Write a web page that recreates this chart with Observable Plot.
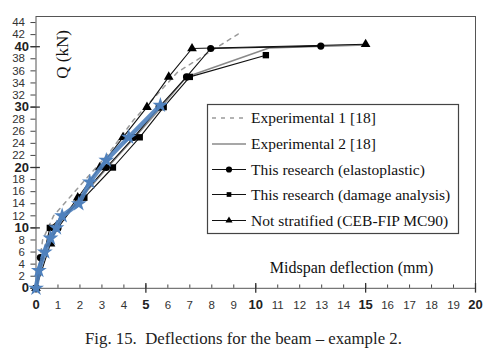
<!DOCTYPE html>
<html><head><meta charset="utf-8">
<script src="https://cdn.jsdelivr.net/npm/d3@7"></script>
<script src="https://cdn.jsdelivr.net/npm/@observablehq/plot@0.6"></script>
<style>
body{margin:0;background:#fff;width:500px;height:350px;overflow:hidden}
#cap{font:16.8px "Liberation Serif","Times New Roman",serif;color:#222;padding-left:85px;margin-top:9px;line-height:20px;white-space:pre}
</style></head><body>
<div id="chart"></div>
<div id="cap">Fig. 15.  Deflections for the beam – example 2.</div>
<script>
// Series (x = midspan deflection mm, y = Q kN)
const exp1X = [0, 0.15, 0.3, 0.8, 2.1, 3.3, 4.45, 6.45, 9.2];
const exp1Y = [0, 4, 8, 12, 17.4, 22.3, 27.9, 35.8, 42.1];
const exp2X = [0, 0.2, 0.85, 2.05, 3.25, 4.5, 5.7, 6.84, 10.6, 15];
const exp2Y = [0, 4.5, 10, 15, 20, 25, 30, 35, 39.8, 40.3];
const elastoX = [0, 0.2, 1.0, 2.0, 3.2, 4.45, 5.6, 6.85, 7.95, 12.96];
const elastoY = [0, 5.1, 10, 15, 20, 25, 30, 35, 39.7, 40.1];
const damageX = [0, 0.63, 2.2, 3.5, 4.72, 5.81, 7.0, 10.46];
const damageY = [0, 10, 15, 20, 25, 30, 35, 38.6];
const notStratX = [0, 0.66, 0.9, 1.9, 2.9, 3.96, 5.05, 6.04, 7.1, 15.0];
const notStratY = [0, 7.4, 10, 15, 20, 25, 30, 35, 39.7, 40.4];
const blueX = [0, 0.13, 0.4, 0.66, 0.93, 1.19, 1.95, 2.45, 3.2, 4.22, 5.66];
const blueY = [0, 2.95, 6, 8.3, 10, 12, 14, 17.6, 21.2, 25, 30.3];

const xTicks = d3.range(0, 21, 1);
const xMajor = [0, 5, 10, 15, 20];
const yTicks = d3.range(0, 45, 2);
const yMajor = [0, 10, 20, 30, 40];

const legendNames = ["Experimental 1 [18]", "Experimental 2 [18]", "This research (elastoplastic)", "This research (damage analysis)", "Not stratified (CEB-FIP MC90)"];
const xLabel = "Midspan deflection (mm)";
const yLabel = "Q (kN)";

const pts = (xs, ys) => xs.map((x, i) => ({x, y: ys[i]}));
const exp1 = pts(exp1X, exp1Y), exp2 = pts(exp2X, exp2Y), elasto = pts(elastoX, elastoY),
      damage = pts(damageX, damageY), notStrat = pts(notStratX, notStratY), blue = pts(blueX, blueY);

const sans = "'Liberation Sans', Arial, sans-serif";
const serif = "'Liberation Serif', 'Times New Roman', serif";

const chart = Plot.plot({
  width: 500, height: 320,
  marginLeft: 35.5, marginRight: 25, marginTop: 16, marginBottom: 32.2,
  style: {fontFamily: sans, background: "#fff", color: "#222"},
  x: {domain: [0, 20], axis: null},
  y: {domain: [0, 45], axis: null},
  marks: [
    Plot.frame({stroke: "#555", strokeWidth: 1}),
    // y ticks
    Plot.ruleY(yTicks, {y: d => d, x1: -0.23, x2: 0, stroke: "#444"}),
    Plot.ruleY(yMajor, {y: d => d, x1: -0.23, x2: 0.2, stroke: "#333", strokeWidth: 1.3}),
    Plot.text(yTicks.filter(d => !yMajor.includes(d)), {x: 0, y: d => d, text: d => String(d), dx: -11, textAnchor: "end", fontSize: 11.5, fill: "#333"}),
    Plot.text(yMajor, {x: 0, y: d => d, text: d => String(d), dx: -7, textAnchor: "end", fontSize: 13, fontWeight: "bold", fill: "#222"}),
    // x ticks
    Plot.ruleX(xTicks, {x: d => d, y1: 0, y2: 0.55, stroke: "#444"}),
    Plot.ruleX(xMajor, {x: d => d, y1: -0.8, y2: 0.8, stroke: "#333", strokeWidth: 1.3}),
    Plot.text(xTicks.filter(d => !xMajor.includes(d)), {x: d => d, y: 0, text: d => String(d), dy: 17.5, fontSize: 11.5, fill: "#333"}),
    Plot.text(xMajor, {x: d => d, y: 0, text: d => String(d), dy: 17, fontSize: 13, fontWeight: "bold", fill: "#222"}),
    // axis titles
    Plot.text([yLabel], {x: 0, y: 45, text: d => d, dx: 27, dy: 38, rotate: -90, fontFamily: serif, fontSize: 17, fill: "#111"}),
    Plot.text([xLabel], {x: 20, y: 0, text: d => d, dx: -124, dy: -20, fontFamily: serif, fontSize: 16, fill: "#111"}),
    // series
    Plot.line(exp1, {x: "x", y: "y", stroke: "#9a9a9a", strokeWidth: 1.5, strokeDasharray: "4,5"}),
    Plot.line(exp2, {x: "x", y: "y", stroke: "#8a8a8a", strokeWidth: 1.6}),
    Plot.line(damage, {x: "x", y: "y", stroke: "#111", strokeWidth: 1.1}),
    Plot.dot(damage, {x: "x", y: "y", symbol: "square", r: 3.6, fill: "#000"}),
    Plot.line(notStrat, {x: "x", y: "y", stroke: "#111", strokeWidth: 1.1}),
    Plot.dot(notStrat, {x: "x", y: "y", symbol: "triangle", r: 3.6, fill: "#000"}),
    Plot.line(elasto, {x: "x", y: "y", stroke: "#111", strokeWidth: 1.1}),
    Plot.dot(elasto, {x: "x", y: "y", symbol: "circle", r: 3.6, fill: "#000"}),
    Plot.line(blue, {x: "x", y: "y", stroke: "#4f81bd", strokeWidth: 4.5, strokeOpacity: 0.9}),
    Plot.dot(blue, {x: "x", y: "y", symbol: "star", r: 5, fill: "#4f81bd"})
  ]
});
document.getElementById("chart").appendChild(chart);

// legend box
const svg = d3.select(chart);
const lg = svg.append("g").attr("text-anchor", "start");
lg.append("rect").attr("x", 207.5).attr("y", 104.5).attr("width", 251).attr("height", 129)
  .attr("fill", "#fff").attr("stroke", "#444").attr("stroke-width", 1.2);
const styles = [
  {stroke: "#9a9a9a", dash: "4,5", w: 1.5, sym: null},
  {stroke: "#8a8a8a", dash: null, w: 1.5, sym: null},
  {stroke: "#111", dash: null, w: 1.1, sym: d3.symbolCircle, size: 30},
  {stroke: "#111", dash: null, w: 1.1, sym: d3.symbolSquare, size: 22},
  {stroke: "#111", dash: null, w: 1.1, sym: d3.symbolTriangle, size: 22}
];
const rowY = [118, 144, 169.5, 194.5, 220.5];
legendNames.forEach((name, i) => {
  const s = styles[i], y = rowY[i];
  const ln = lg.append("line").attr("x1", 212).attr("x2", 246).attr("y1", y).attr("y2", y)
    .attr("stroke", s.stroke).attr("stroke-width", s.w);
  if (s.dash) ln.attr("stroke-dasharray", s.dash);
  if (s.sym) lg.append("path").attr("d", d3.symbol(s.sym, s.size)()).attr("transform", `translate(229,${y})`).attr("fill", "#000");
  lg.append("text").attr("x", 251).attr("y", y).attr("dy", "0.35em").attr("text-anchor", "start").attr("font-family", serif)
    .attr("font-size", 15.5).attr("fill", "#111").text(name);
});
</script>
</body></html>
